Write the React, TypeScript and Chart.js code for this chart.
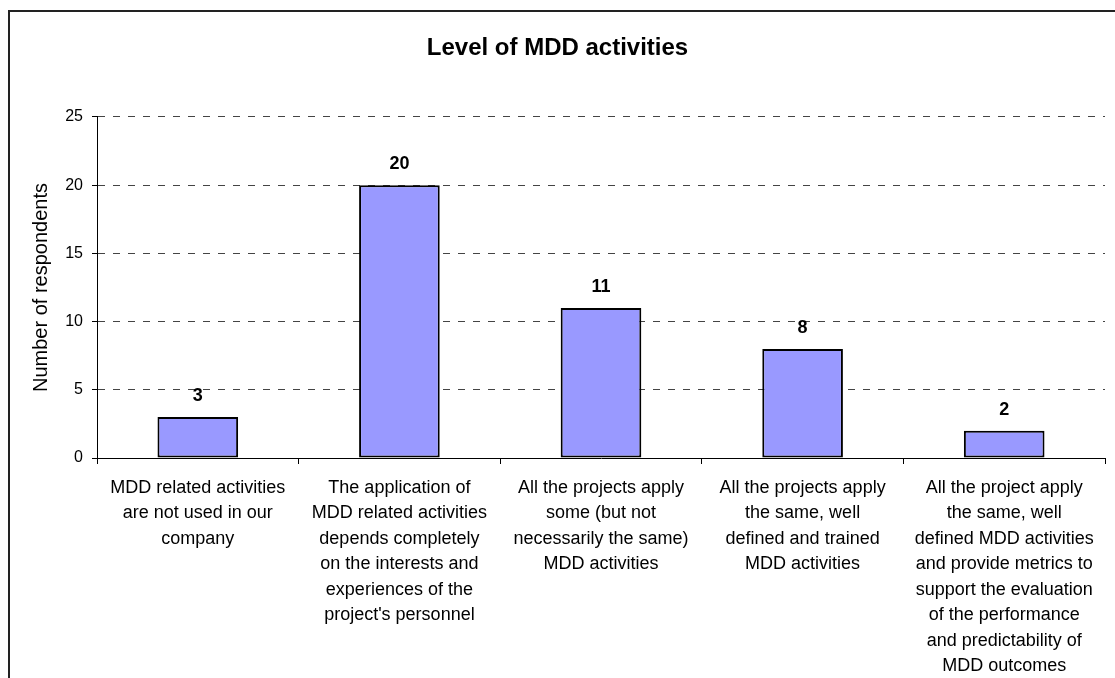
import React, { useEffect, useRef } from "react";
import { Chart, registerables } from "chart.js";

Chart.register(...registerables);

const titleText = "Level of MDD activities";
const yAxisTitle = "Number of respondents";
const categories: string[][] = [
  ["MDD related activities", "are not used in our", "company"],
  ["The application of", "MDD related activities", "depends completely", "on the interests and", "experiences of the", "project's personnel"],
  ["All the projects apply", "some (but not", "necessarily the same)", "MDD activities"],
  ["All the projects apply", "the same, well", "defined and trained", "MDD activities"],
  ["All the project apply", "the same, well", "defined MDD activities", "and provide metrics to", "support the evaluation", "of the performance", "and predictability of", "MDD outcomes"],
];
const respondents: number[] = [3, 20, 11, 8, 2];
const yMin = 0;
const yMax = 25;
const yStep = 5;

const FONT = "'Liberation Sans', Arial, sans-serif";

const valueLabels = {
  id: "valueLabels",
  afterDatasetsDraw(chart: any) {
    const ctx = chart.ctx;
    const meta = chart.getDatasetMeta(0);
    ctx.save();
    ctx.font = `bold 18px ${FONT}`;
    ctx.fillStyle = "#000";
    ctx.textAlign = "center";
    ctx.textBaseline = "alphabetic";
    meta.data.forEach((el: any, i: number) => {
      ctx.fillText(String(respondents[i]), el.x, el.y - 16);
    });
    ctx.restore();
  },
};

export default function App() {
  const ref = useRef<HTMLCanvasElement | null>(null);

  useEffect(() => {
    document.body.style.margin = "0";
    const canvas = ref.current;
    if (!canvas) return;
    const chart = new Chart(canvas, {
      type: "bar",
      data: {
        labels: categories,
        datasets: [
          {
            data: respondents,
            backgroundColor: "#9999FF",
            borderColor: "#000000",
            borderWidth: 2,
            borderSkipped: false,
            categoryPercentage: 1,
            barPercentage: 0.4,
          },
        ],
      },
      options: {
        responsive: false,
        animation: false,
        devicePixelRatio: 1,
        layout: { padding: { left: 0, right: 20, top: 0, bottom: 0 } },
        plugins: {
          legend: { display: false },
          tooltip: { enabled: false },
          title: {
            display: true,
            text: titleText,
            color: "#000",
            font: { family: FONT, size: 24, weight: "bold", lineHeight: 1.2 },
            padding: { top: 22.4, bottom: 53.8 },
          },
        },
        scales: {
          x: {
            offset: true,
            grid: {
              offset: true,
              drawOnChartArea: false,
              drawTicks: true,
              tickLength: 6,
              tickColor: "#000",
            },
            border: { display: true, color: "#000", width: 1 },
            ticks: {
              color: "#000",
              font: { family: FONT, size: 18, lineHeight: 1.417 },
              padding: 11,
              autoSkip: false,
              maxRotation: 0,
              minRotation: 0,
            },
            afterFit: (scale: any) => {
              scale.height = 234;
            },
          },
          y: {
            min: yMin,
            max: yMax,
            grid: {
              color: "#444",
              lineWidth: 1,
              drawTicks: true,
              tickLength: 5,
              tickColor: "#000",
            },
            border: { display: true, color: "#000", width: 1, dash: [7, 8] },
            ticks: {
              stepSize: yStep,
              color: "#000",
              font: { family: FONT, size: 16 },
              padding: 9,
            },
            title: {
              display: true,
              text: yAxisTitle,
              color: "#000",
              font: { family: FONT, size: 20, lineHeight: 1.2 },
              padding: { top: 19, bottom: 0 },
            },
            afterFit: (scale: any) => {
              scale.width = 87;
            },
          },
        },
      },
      plugins: [valueLabels],
    });
    return () => chart.destroy();
  }, []);

  return (
    <div style={{ position: "relative", width: 1115, height: 678, overflow: "hidden", background: "#fff" }}>
      <div
        style={{
          position: "absolute",
          left: 8,
          top: 10,
          width: 1140,
          height: 700,
          borderLeft: "2px solid #222",
          borderTop: "2px solid #222",
        }}
      >
        <canvas ref={ref} width={1115} height={680} style={{ display: "block" }} />
      </div>
    </div>
  );
}
